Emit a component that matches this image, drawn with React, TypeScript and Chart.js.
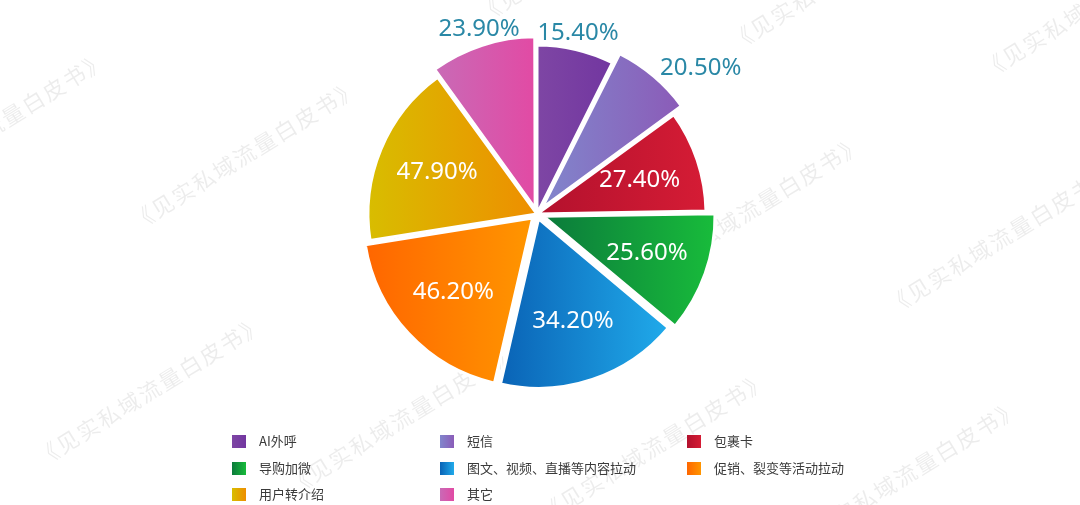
import { useEffect, useRef } from 'react';
import { Chart, registerables } from 'chart.js';

Chart.register(...registerables);

// categories in data / legend order
const categories = [
  'AI外呼',
  '短信',
  '包裹卡',
  '导购加微',
  '图文、视频、直播等内容拉动',
  '促销、裂变等活动拉动',
  '用户转介绍',
  '其它',
];
// percentages printed on the slices
const percentValues = [15.4, 20.5, 27.4, 25.6, 34.2, 46.2, 47.9, 23.9];
// angular size of each slice as drawn in the picture (degrees)
const sliceShares = [26.5, 27.5, 35, 41, 63, 68, 63, 36];

const sliceColors = [
  ['#7e46a4', '#7236a0'],
  ['#8186cc', '#8b5cb8'],
  ['#b3112d', '#d51c35'],
  ['#0b7a3b', '#18bb3b'],
  ['#0a63b6', '#20aaea'],
  ['#ff6600', '#ff9600'],
  ['#d8bd00', '#ee8e00'],
  ['#c96ab6', '#e24aa4'],
];
const sliceOffsets = [0, 30, 0, 28, 20, 24, 0, 24];

const RADIUS = 169;
const WATERMARK = '《见实私域流量白皮书》';

const sliceAngles = () => {
  const total = sliceShares.reduce((a, b) => a + b, 0);
  let acc = -90;
  return sliceShares.map(v => {
    const start = acc;
    acc += (v / total) * 360;
    return [start, acc];
  });
};

const makeGradient = (chart, i) => {
  const area = chart.chartArea;
  const cols = sliceColors[i];
  if (!area) return cols[0];
  const cx = (area.left + area.right) / 2;
  const [s, e] = sliceAngles()[i];
  const xs = [0, Math.cos((s * Math.PI) / 180), Math.cos((e * Math.PI) / 180)];
  for (let a = Math.ceil(s / 180) * 180; a <= e; a += 180) {
    xs.push(Math.cos((a * Math.PI) / 180));
  }
  const x0 = cx + Math.min(...xs) * RADIUS;
  const x1 = cx + Math.max(...xs) * RADIUS;
  const g = chart.ctx.createLinearGradient(x0, 0, x1, 0);
  g.addColorStop(0, cols[0]);
  g.addColorStop(1, cols[1]);
  return g;
};

const watermarkPlugin = {
  id: 'watermark',
  beforeDatasetsDraw(chart) {
    const ctx = chart.ctx;
    ctx.save();
    ctx.font = '22px "Noto Sans CJK SC"';
    ctx.letterSpacing = '2px';
    ctx.fillStyle = 'rgba(0,0,0,0.075)';
    ctx.textBaseline = 'middle';
    for (let i = -3; i <= 5; i++) {
      for (let j = -2; j <= 3; j++) {
        const x = 133 + i * 252 - j * 95;
        const y = 224 + i * 28 + j * 236;
        if (x < -300 || x > 1100 || y < -20 || y > 700) continue;
        ctx.save();
        ctx.translate(x, y);
        ctx.rotate((-31.7 * Math.PI) / 180);
        ctx.fillText(WATERMARK, 0, 0);
        ctx.restore();
      }
    }
    ctx.restore();
  },
};

const sliceLabelPlugin = {
  id: 'sliceLabels',
  afterDatasetsDraw(chart) {
    const ctx = chart.ctx;
    const meta = chart.getDatasetMeta(0);
    ctx.save();
    ctx.font = '24px "Noto Sans"';
    meta.data.forEach((arc, i) => {
      const { x, y, startAngle, endAngle, outerRadius } = arc.getProps(
        ['x', 'y', 'startAngle', 'endAngle', 'outerRadius'],
        true
      );
      const mid = (startAngle + endAngle) / 2;
      const t = sliceOffsets[i] / 4;
      const fix = 1 - Math.sin(Math.min(Math.PI, endAngle - startAngle));
      const r = outerRadius + t * fix;
      const ax = x + Math.cos(mid) * t;
      const ay = y + Math.sin(mid) * t;
      const text = percentValues[i].toFixed(2) + '%';
      if (percentValues[i] >= 25) {
        ctx.fillStyle = '#ffffff';
        ctx.textAlign = 'center';
        ctx.textBaseline = 'middle';
        ctx.fillText(text, ax + Math.cos(mid) * r * 0.64, ay + Math.sin(mid) * r * 0.64);
      } else {
        const c = Math.cos(mid);
        const px = ax + c * (r + 10);
        const py = ay + Math.sin(mid) * (r + 10);
        ctx.fillStyle = '#2a88a6';
        if (c > 0.35) {
          ctx.textAlign = 'left';
          ctx.textBaseline = 'middle';
        } else if (c < -0.35) {
          ctx.textAlign = 'right';
          ctx.textBaseline = 'middle';
        } else {
          ctx.textAlign = 'center';
          ctx.textBaseline = Math.sin(mid) < 0 ? 'alphabetic' : 'top';
        }
        ctx.fillText(text, px, py);
      }
    });
    ctx.restore();
  },
};

const legendCols = [232, 440, 687];
const legendRows = [434, 461, 487];

const App = () => {
  const chartRef = useRef(null);
  const chartInstance = useRef(null);

  useEffect(() => {
    if (chartInstance.current) {
      chartInstance.current.destroy();
    }
    const ctx = chartRef.current.getContext('2d');

    chartInstance.current = new Chart(ctx, {
      type: 'pie',
      data: {
        labels: categories,
        datasets: [{
          data: sliceShares,
          backgroundColor: (c) => makeGradient(c.chart, c.dataIndex),
          borderColor: '#ffffff',
          borderWidth: 3,
          offset: sliceOffsets,
          radius: RADIUS,
        }],
      },
      options: {
        responsive: false,
        animation: false,
        layout: { padding: { left: 0, right: 6, top: 0, bottom: 77 } },
        plugins: {
          legend: { display: false },
          tooltip: { enabled: false },
        },
      },
      plugins: [watermarkPlugin, sliceLabelPlugin],
    });

    return () => {
      if (chartInstance.current) {
        chartInstance.current.destroy();
        chartInstance.current = null;
      }
    };
  }, []);

  return (
    <div style={{ position: 'absolute', left: 0, top: 0, width: 1080, height: 505, background: '#fff', overflow: 'hidden' }}>
      <canvas ref={chartRef} width={1080} height={505} style={{ position: 'absolute', left: 0, top: 0, width: 1080, height: 505 }} />
      {categories.map((name, i) => {
        const cols = sliceColors[i];
        return (
          <div
            key={name}
            style={{
              position: 'absolute',
              left: legendCols[i % 3],
              top: legendRows[Math.floor(i / 3)],
              height: 14,
              display: 'flex',
              alignItems: 'center',
              fontFamily: '"Noto Sans CJK SC", sans-serif',
              fontSize: 13,
              color: '#3a3a3a',
              whiteSpace: 'nowrap',
            }}
          >
            <span style={{ width: 14, height: 13, marginRight: 13, background: `linear-gradient(to right, ${cols[0]}, ${cols[1]})` }} />
            <span style={{ lineHeight: '14px' }}>{name}</span>
          </div>
        );
      })}
    </div>
  );
};

export default App;
